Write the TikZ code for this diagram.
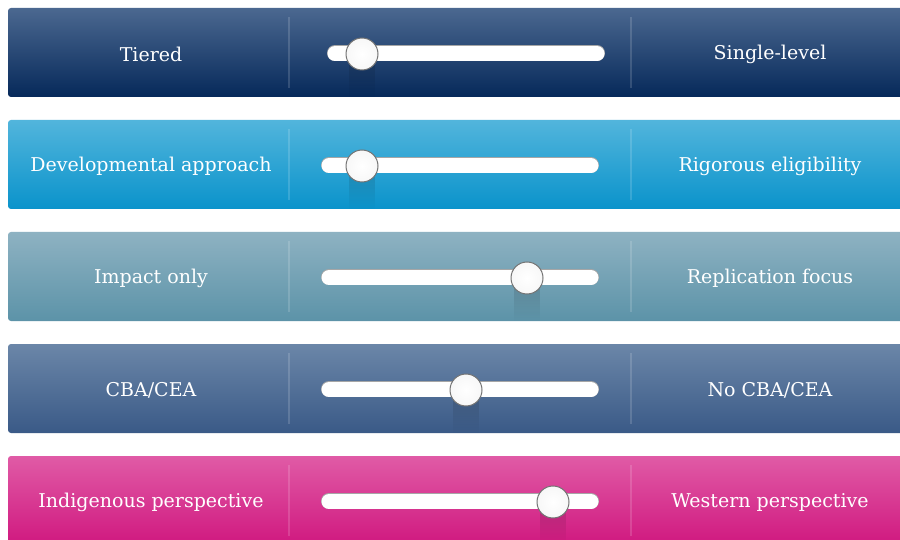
\documentclass[tikz,border=0pt]{standalone}
\usepackage{fontspec}
\setmainfont{DejaVu Serif}
\usetikzlibrary{fadings}
\tikzfading[name=fadedown, top color=transparent!0, bottom color=transparent!100]
\definecolor{aT}{HTML}{4B6890}\definecolor{aB}{HTML}{06295A}
\definecolor{bT}{HTML}{52B5DC}\definecolor{bB}{HTML}{0A93CB}
\definecolor{cT}{HTML}{8EB2C2}\definecolor{cB}{HTML}{5C93A8}
\definecolor{dT}{HTML}{6B86A8}\definecolor{dB}{HTML}{3A5A87}
\definecolor{eT}{HTML}{E05BA6}\definecolor{eB}{HTML}{D0187F}
\tikzset{
  lbl/.style={text=white, font=\fontsize{19}{22}\selectfont, inner sep=0pt, anchor=center},
  divider/.style={draw=white, draw opacity=0.15, line width=2pt},
  knob/.style={circle, minimum size=32pt, inner sep=0pt, draw=black!55, line width=1pt, inner color=white, outer color=white!97!black},
}
\newcommand{\sliderbar}[8]{% #1 top, #2 topcolor, #3 bottomcolor, #4 left text, #5 right text, #6 track x1, #7 track x2, #8 knob x
  \shade[rounded corners=3pt, top color=#2, bottom color=#3] (8,#1) rectangle (920,#1+89);
  \draw[divider] (289,#1+9) -- (289,#1+80);
  \draw[divider] (631,#1+9) -- (631,#1+80);
  \node[lbl] (L#1) at (151,#1+46) {#4};
  \node[lbl] (R#1) at (770,#1+46) {#5};
  \fill[black, opacity=0.13, path fading=fadedown] (#8-13,#1+54) rectangle (#8+13,#1+89);
  \draw[black!35, line width=16pt, line cap=round] (#6+8,#1+45) -- (#7-8,#1+45);
  \draw[white, line width=15pt, line cap=round] (#6+8,#1+45.7) -- (#7-8,#1+45.7);
  \node[knob] (K#1) at (#8,#1+46) {};
}
\begin{document}
\begin{tikzpicture}[x=1pt,y=-1pt]
\useasboundingbox (0,0) rectangle (900,540);
\clip (0,0) rectangle (900,540);
\fill[white] (0,0) rectangle (900,540);
\sliderbar{8}{aT}{aB}{Tiered}{Single-level}{327}{605}{362}
\sliderbar{120}{bT}{bB}{Developmental approach}{Rigorous eligibility}{321}{599}{362}
\sliderbar{232}{cT}{cB}{Impact only}{Replication focus}{321}{599}{527}
\sliderbar{344}{dT}{dB}{CBA/CEA}{No CBA/CEA}{321}{599}{466}
\sliderbar{456}{eT}{eB}{Indigenous perspective}{Western perspective}{321}{599}{553}
\end{tikzpicture}
\end{document}
